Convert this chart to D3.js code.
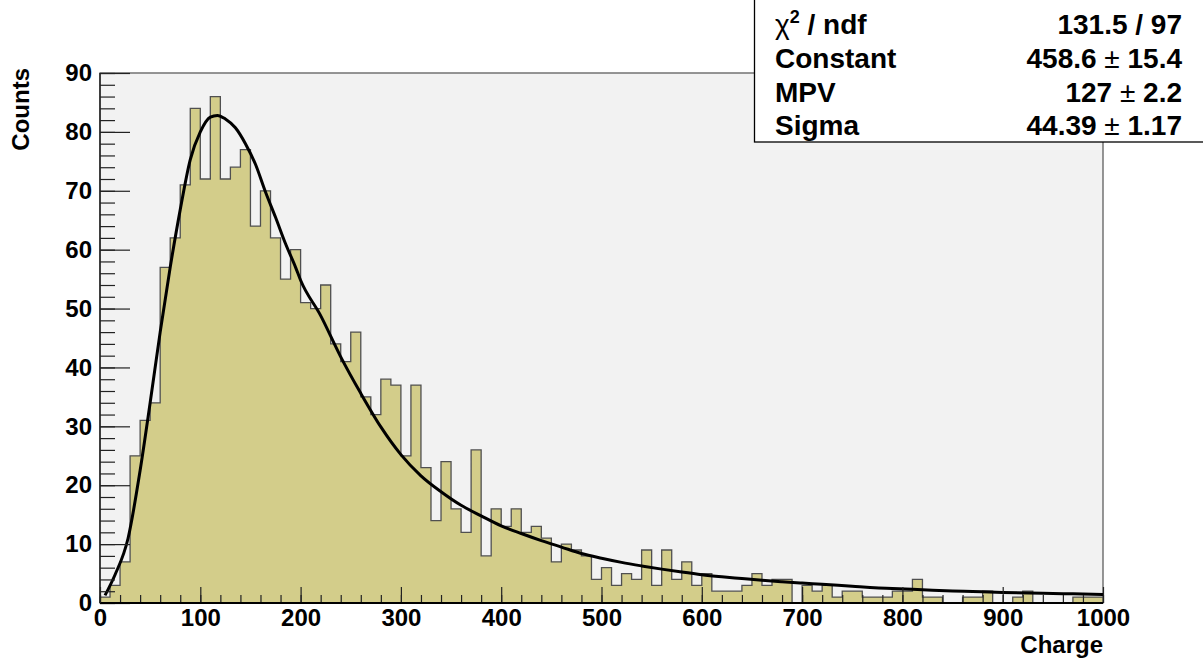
<!DOCTYPE html>
<html>
<head>
<meta charset="utf-8">
<script src="https://cdn.jsdelivr.net/npm/d3@7"></script>
<style>
  html, body { margin: 0; padding: 0; background: #ffffff; }
  svg { display: block; font-family: "Liberation Sans", Arial, Helvetica, sans-serif; }
</style>
</head>
<body>
<svg id="chart" width="1203" height="659"></svg>
<script>
// Charge spectrum: 100 bins of width 10 between 0 and 1000
const binLow = 0;
const binWidth = 10;
const counts = [
  1, 3, 7, 25, 31, 34, 57, 62, 71, 84,
  72, 86, 72, 74, 77, 64, 70, 62, 55, 60,
  51, 50, 54, 44, 41, 46, 35, 32, 38, 37,
  25, 37, 23, 14, 24, 16, 12, 26, 8, 16,
  13, 16, 12, 13, 11, 7, 10, 9, 8, 4,
  6, 3, 5, 4, 9, 3, 9, 4, 7, 3,
  5, 2, 2, 2, 3, 5, 3, 4, 4, 0,
  3, 2, 3, 1, 2, 2, 1, 1, 1, 2,
  2, 4, 1, 1, 0, 0, 1, 1, 2, 0,
  0, 1, 2, 0, 0, 0, 0, 1, 1, 1
];

// Landau fit curve, sampled along the charge axis
const fitCharge = [5, 15, 28, 40, 50, 60, 70, 80, 90, 100,
  110, 117, 125, 135, 145, 155, 165, 175, 185, 195,
  200, 220, 240, 260, 280, 300, 320, 340, 360, 380,
  400, 420, 440, 460, 480, 500, 520, 540, 560, 580,
  600, 620, 640, 660, 680, 700, 720, 750, 790, 820,
  850, 870, 900, 940, 970, 1000];
const fitCounts = [1.3, 4.8, 11.0, 22.5, 34, 46, 57, 66.8, 75.3, 80,
  82.5, 82.8, 82.2, 80.7, 78, 74.5, 69.8, 65.5, 61, 57,
  54.8, 48.8, 41.8, 35.6, 29.9, 25.2, 21.6, 18.9, 16.6, 14.8,
  13.1, 11.8, 10.6, 9.5, 8.4, 7.6, 6.9, 6.3, 5.75, 5.25,
  4.8, 4.45, 4.15, 3.85, 3.6, 3.38, 3.18, 2.85, 2.45, 2.25,
  2.05, 1.95, 1.8, 1.65, 1.55, 1.45];

// Axis ticks
const xMajorTicks = [0, 100, 200, 300, 400, 500, 600, 700, 800, 900, 1000];
const yMajorTicks = [0, 10, 20, 30, 40, 50, 60, 70, 80, 90];

// Fit statistics box
const statLabels = ["chi2/ndf", "Constant", "MPV", "Sigma"];
const statValues = [["131.5 / 97"], ["458.6", "15.4"], ["127", "2.2"], ["44.39", "1.17"]];

const svg = d3.select("#chart");
const W = 1203, H = 659;
const frame = { left: 100, right: 1103, top: 73, bottom: 603 };

const x = d3.scaleLinear().domain([0, 1000]).range([frame.left, frame.right]);
const y = d3.scaleLinear().domain([0, 90]).range([frame.bottom, frame.top]);

svg.append("rect").attr("width", W).attr("height", H).attr("fill", "#ffffff");

// plot frame background
svg.append("rect")
  .attr("x", frame.left).attr("y", frame.top)
  .attr("width", frame.right - frame.left).attr("height", frame.bottom - frame.top)
  .attr("fill", "#f2f2f2")
  .attr("stroke", "#5e5e5e").attr("stroke-width", 1.3);

// histogram as a filled staircase
const bins = counts.map((c, i) => ({ lo: binLow + i * binWidth, c }));
const stepPts = [[binLow, 0]]
  .concat(bins.map(b => [b.lo, b.c]))
  .concat([[binLow + counts.length * binWidth, counts[counts.length - 1]],
           [binLow + counts.length * binWidth, 0]]);

const area = d3.area()
  .x(d => x(d[0])).y0(y(0)).y1(d => y(d[1]))
  .curve(d3.curveStepAfter);
svg.append("path")
  .datum(stepPts)
  .attr("d", area)
  .attr("fill", "#d3cd8a");

const outline = d3.line()
  .x(d => x(d[0])).y(d => y(d[1]))
  .curve(d3.curveStepAfter);
svg.append("path")
  .datum(stepPts)
  .attr("d", outline)
  .attr("fill", "none")
  .attr("stroke", "#505050")
  .attr("stroke-width", 1.3);

// fit curve
const fitLine = d3.line()
  .x((d, i) => x(fitCharge[i])).y(d => y(d))
  .curve(d3.curveMonotoneX);
svg.append("path")
  .datum(fitCounts)
  .attr("d", fitLine)
  .attr("fill", "none")
  .attr("stroke", "#000000")
  .attr("stroke-width", 3)
  .attr("stroke-linejoin", "round");

// x axis (ticks point into the frame)
const xMinor = d3.range(0, 1001, 20);
svg.append("g")
  .attr("transform", `translate(0,${frame.bottom})`)
  .call(d3.axisBottom(x).tickValues(xMinor).tickSizeInner(-8).tickSizeOuter(0).tickFormat(""))
  .call(g => g.select(".domain").remove())
  .call(g => g.selectAll("line").attr("stroke", "#222").attr("stroke-width", 1.2));
svg.append("g")
  .attr("transform", `translate(0,${frame.bottom})`)
  .call(d3.axisBottom(x).tickValues(xMajorTicks).tickSizeInner(-16).tickSizeOuter(0).tickPadding(6).tickFormat(d3.format("d")))
  .call(g => g.select(".domain").remove())
  .call(g => g.selectAll("line").attr("stroke", "#222").attr("stroke-width", 1.2))
  .call(g => g.selectAll("text")
    .attr("font-family", "'Liberation Sans', Arial, sans-serif")
    .attr("font-size", 24).attr("font-weight", "bold").attr("fill", "#000"));

// y axis
const yMinor = d3.range(0, 91, 2);
svg.append("g")
  .attr("transform", `translate(${frame.left},0)`)
  .call(d3.axisLeft(y).tickValues(yMinor).tickSizeInner(-15).tickSizeOuter(0).tickFormat(""))
  .call(g => g.select(".domain").remove())
  .call(g => g.selectAll("line").attr("stroke", "#222").attr("stroke-width", 1.2));
svg.append("g")
  .attr("transform", `translate(${frame.left},0)`)
  .call(d3.axisLeft(y).tickValues(yMajorTicks).tickSizeInner(-30).tickSizeOuter(0).tickPadding(8).tickFormat(d3.format("d")))
  .call(g => g.select(".domain").remove())
  .call(g => g.selectAll("line").attr("stroke", "#222").attr("stroke-width", 1.2))
  .call(g => g.selectAll("text")
    .attr("font-family", "'Liberation Sans', Arial, sans-serif")
    .attr("font-size", 24).attr("font-weight", "bold").attr("fill", "#000"));

// axis lines
svg.append("line")
  .attr("x1", frame.left).attr("x2", frame.right)
  .attr("y1", frame.bottom).attr("y2", frame.bottom)
  .attr("stroke", "#000").attr("stroke-width", 2);
svg.append("line")
  .attr("x1", frame.left).attr("x2", frame.left)
  .attr("y1", frame.top).attr("y2", frame.bottom)
  .attr("stroke", "#222").attr("stroke-width", 1.5);

// axis titles
svg.append("text")
  .attr("x", frame.right).attr("y", 653)
  .attr("text-anchor", "end")
  .attr("font-size", 24).attr("font-weight", "bold")
  .text("Charge");
svg.append("text")
  .attr("transform", `translate(29,${frame.top - 5}) rotate(-90)`)
  .attr("text-anchor", "end")
  .attr("font-size", 24).attr("font-weight", "bold")
  .text("Counts");

// statistics box
const box = { x: 754.5, y: -1, w: 460, h: 143 };
svg.append("rect")
  .attr("x", box.x).attr("y", box.y).attr("width", box.w).attr("height", box.h)
  .attr("fill", "#ffffff").attr("stroke", "#000").attr("stroke-width", 1.3);

const rowBase = [34, 68, 101.5, 135];
const statG = svg.append("g").attr("font-size", 28).attr("font-weight", "bold");
statLabels.forEach((lab, i) => {
  const t = statG.append("text").attr("x", 775).attr("y", rowBase[i]);
  if (lab === "chi2/ndf") {
    t.append("tspan").attr("font-weight", "normal").text("\u03C7");
    t.append("tspan").attr("font-size", 18).attr("dy", -11).text("2");
    t.append("tspan").attr("dy", 11).text(" / ndf");
  } else {
    t.text(lab);
  }
  const v = statG.append("text").attr("x", 1182).attr("y", rowBase[i]).attr("text-anchor", "end");
  const parts = statValues[i];
  v.append("tspan").text(parts[0]);
  if (parts.length > 1) {
    v.append("tspan").attr("font-weight", "normal").text(" \u00B1 ");
    v.append("tspan").text(parts[1]);
  }
});
</script>
</body>
</html>
